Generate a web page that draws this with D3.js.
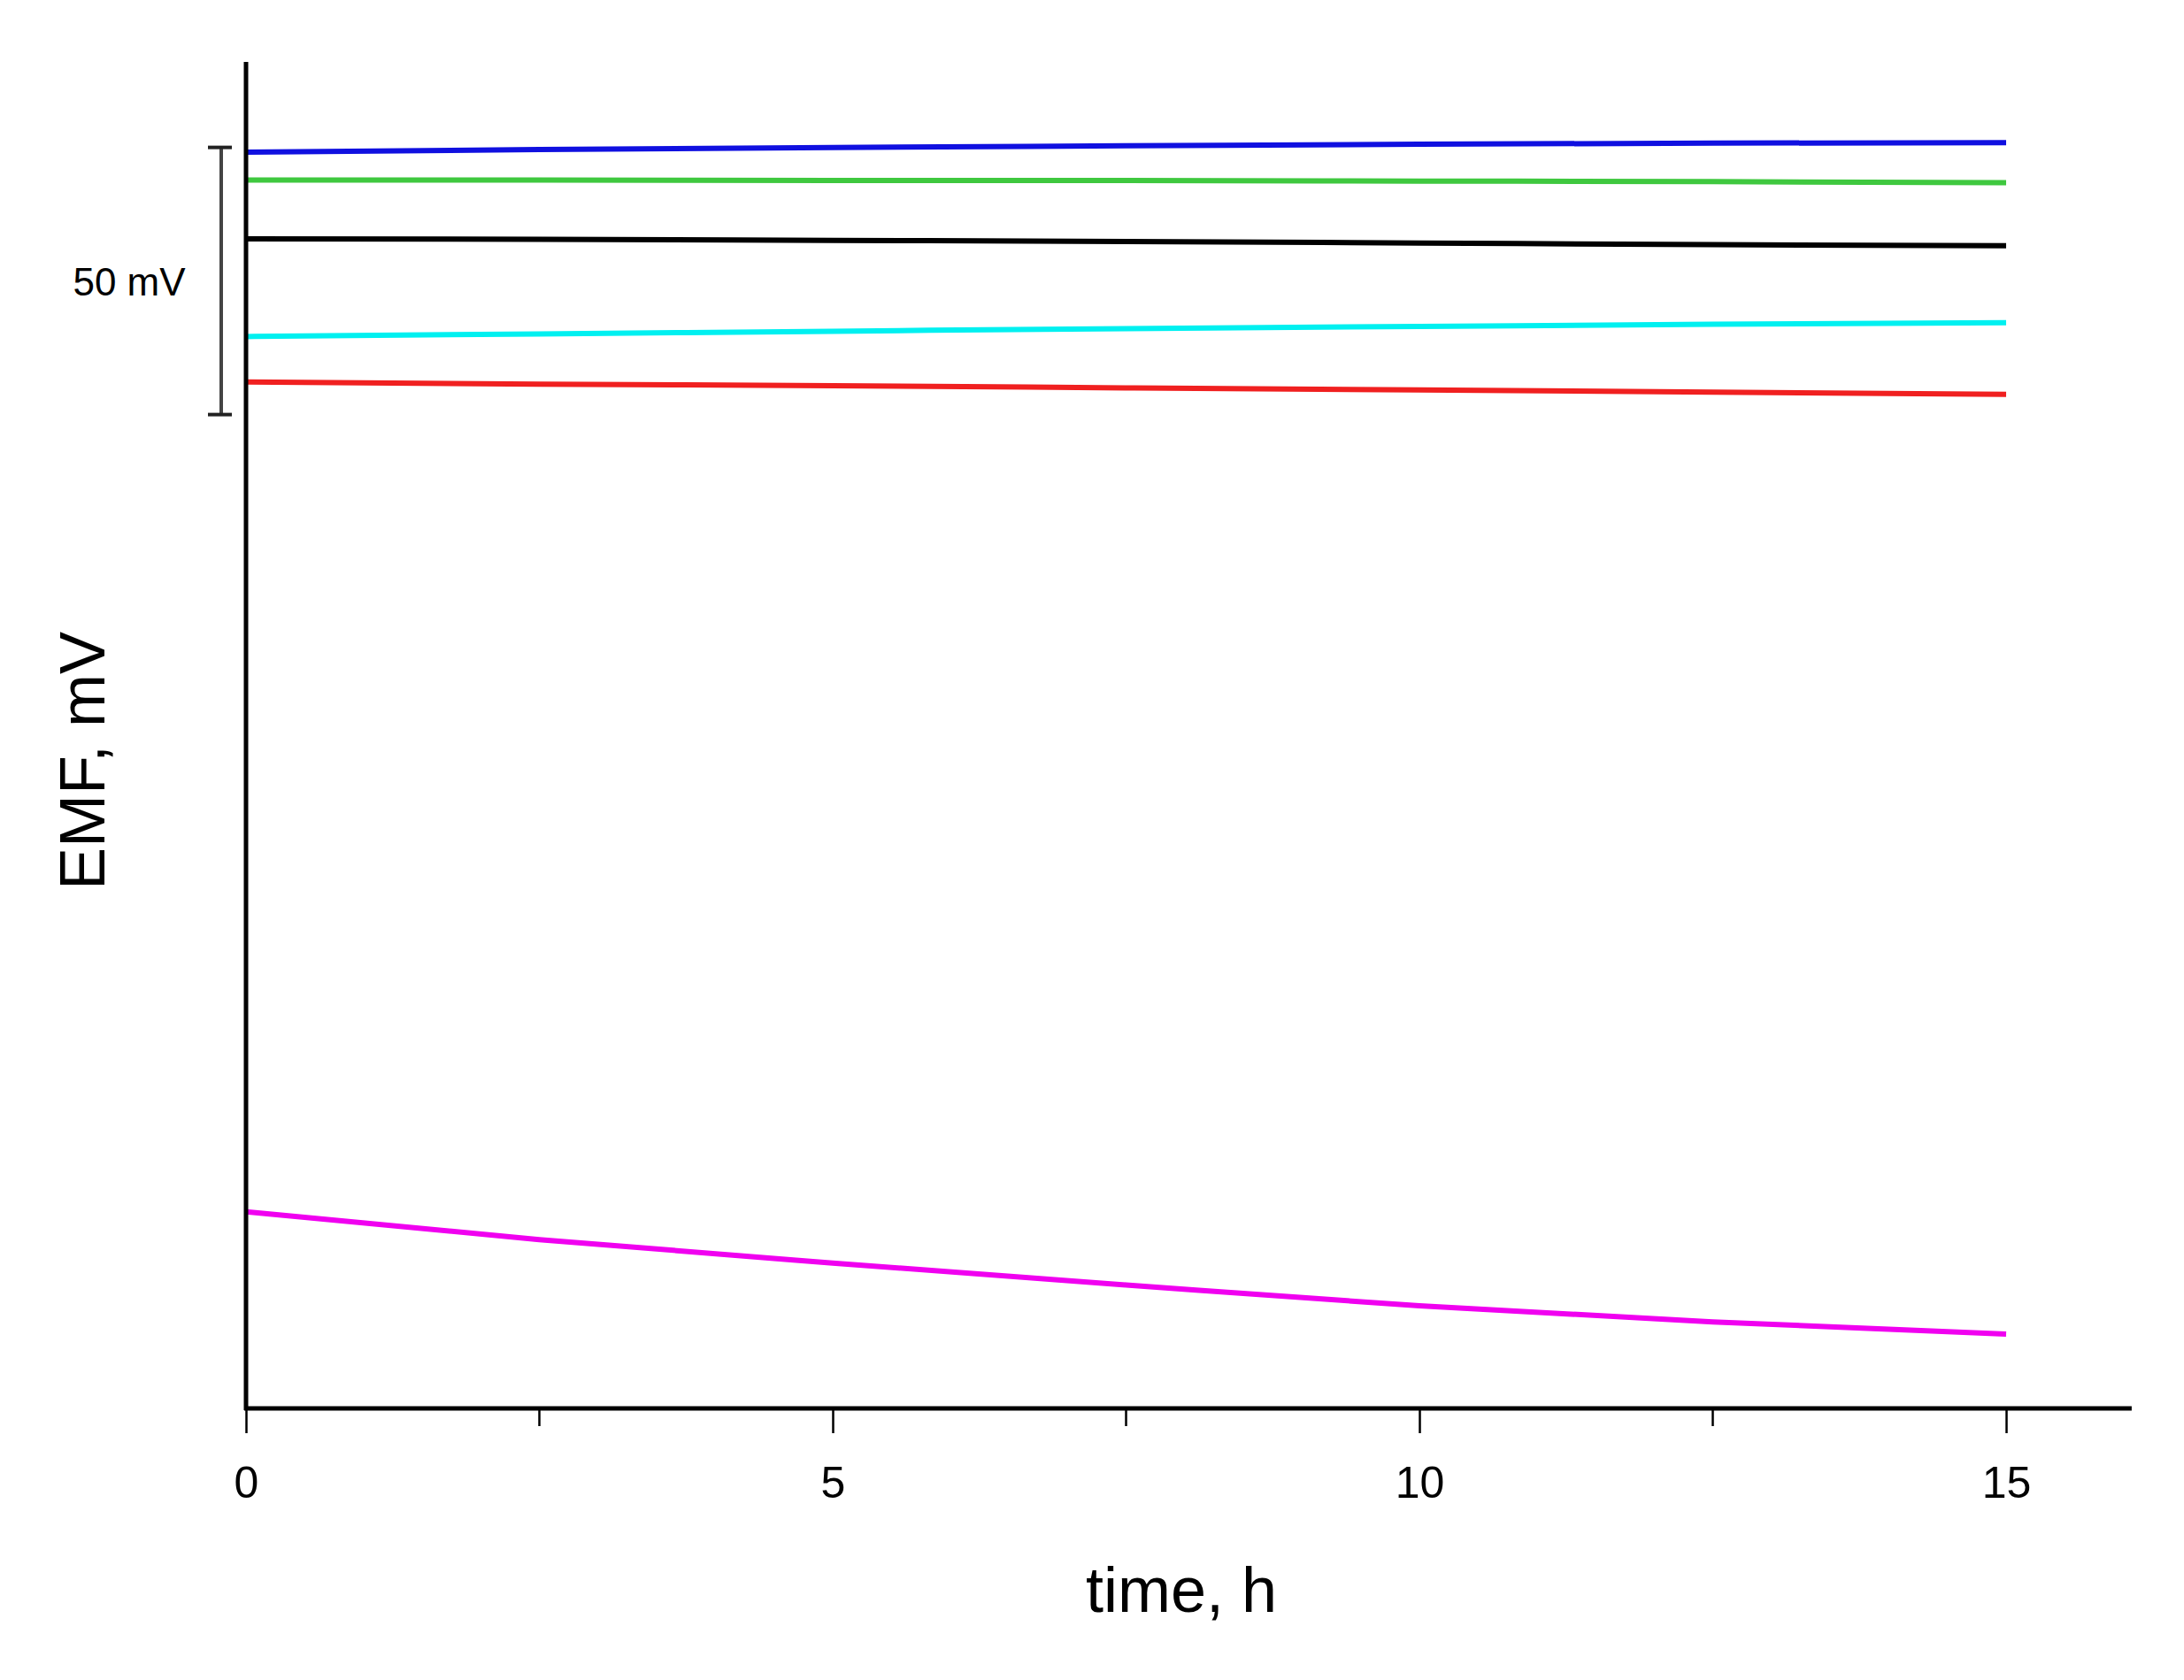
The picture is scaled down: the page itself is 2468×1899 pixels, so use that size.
<!DOCTYPE html>
<html><head><meta charset="utf-8">
<script src="https://cdn.jsdelivr.net/npm/d3@7"></script>
<style>body{margin:0;background:#fff}svg{display:block}text{font-family:"Liberation Sans",Arial,sans-serif}</style>
</head><body><svg id="c" width="2468" height="1899"></svg>
<script>
const times=[0,2.5,5,7.5,10,12.5,15];
const seriesNames=["blue","green","black","cyan","red","magenta"];
const colors=["#1010e0","#3fc83f","#000000","#00f0f0","#f02020","#f000f0"];
const blue=[235.1,235.6,236.0,236.3,236.6,236.8,236.9];
const green=[229.9,229.9,229.8,229.8,229.7,229.6,229.4];
const black=[218.9,218.8,218.6,218.4,218.1,217.8,217.6];
const cyan=[200.6,201.1,201.6,202.1,202.5,202.9,203.2];
const red=[192.1,191.7,191.4,191.0,190.6,190.2,189.8];
const magenta=[36.8,31.6,27.2,23.1,19.2,16.2,13.9];
const allSeries=[blue,green,black,cyan,red,magenta];
const xTicks=[0,5,10,15];
const xMinor=[2.5,7.5,12.5];
const scaleBarMV=50;

(function(){
const svg=d3.select("#c");
const x=d3.scaleLinear().domain([0,15]).range([278,2267]);
const y=d3.scaleLinear().domain([0,252]).range([1592,70]);
const line=d3.line().x((d,i)=>x(times[i])).y(d=>y(d)).curve(d3.curveMonotoneX);
allSeries.forEach((s,i)=>svg.append("path").attr("d",line(s)).attr("fill","none").attr("stroke",colors[i]).attr("stroke-width",6));

svg.append("line").attr("x1",x(0)).attr("x2",x(0)).attr("y1",y(252)).attr("y2",y(0)+2).attr("stroke","#000").attr("stroke-width",5);
svg.append("line").attr("x1",x(0)-2).attr("x2",x(16.07)).attr("y1",y(0)).attr("y2",y(0)).attr("stroke","#000").attr("stroke-width",5);
const xa=d3.axisBottom(x).tickValues(xTicks).tickSize(28).tickFormat(d3.format("d"));
const g=svg.append("g").attr("transform",`translate(0,${y(0)})`).call(xa);
g.select(".domain").remove();
g.selectAll("line").attr("stroke-width",2.5);
g.selectAll("text").attr("font-size",50).attr("dy","1.4em").attr("fill","#000");
svg.append("g").selectAll("line").data(xMinor).join("line").attr("x1",d=>x(d)).attr("x2",d=>x(d)).attr("y1",y(0)).attr("y2",y(0)+20).attr("stroke","#000").attr("stroke-width",2.5);

svg.append("text").attr("x",1335).attr("y",1822).attr("text-anchor","middle").attr("font-size",72).text("time, h");
svg.append("text").attr("transform","translate(118,860) rotate(-90)").attr("text-anchor","middle").attr("font-size",72).text("EMF, mV");

const yt=y(236),yb=y(236-scaleBarMV);
svg.append("line").attr("x1",250).attr("x2",250).attr("y1",yt).attr("y2",yb).attr("stroke","#444").attr("stroke-width",4);
[yt,yb].forEach(v=>svg.append("line").attr("x1",235).attr("x2",262).attr("y1",v).attr("y2",v).attr("stroke","#222").attr("stroke-width",4));
svg.append("text").attr("x",146).attr("y",(yt+yb)/2+16).attr("text-anchor","middle").attr("font-size",44).text("50 mV");
})();
</script></body></html>
